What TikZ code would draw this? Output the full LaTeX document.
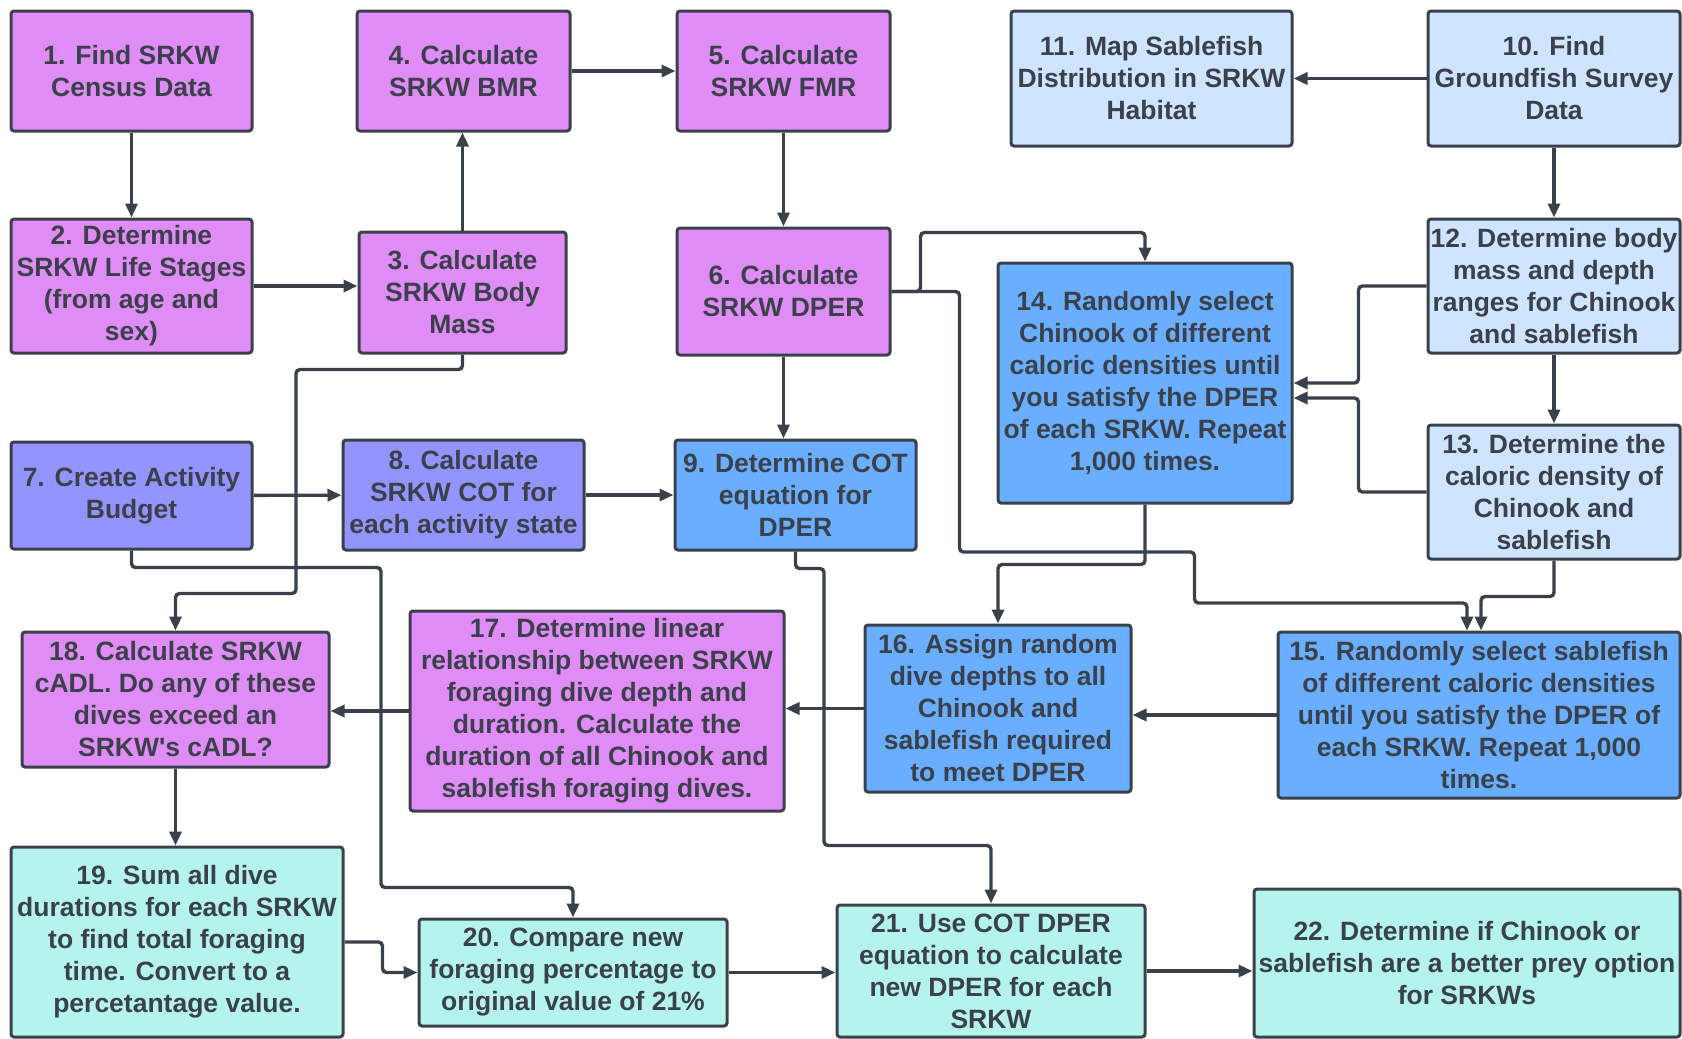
\documentclass[tikz,border=0pt]{standalone}
\usepackage{fontspec}
\setmainfont{Liberation Sans}
\usetikzlibrary{arrows.meta}
\definecolor{ink}{HTML}{3B414B}
\definecolor{cPink}{HTML}{E08CF7}
\definecolor{cViolet}{HTML}{9494FF}
\definecolor{cPale}{HTML}{CFE4FF}
\definecolor{cBlue}{HTML}{6AAEFF}
\definecolor{cMint}{HTML}{B5F4EC}

\begin{document}
\begin{tikzpicture}[x=1pt,y=-1pt,
    box/.style={draw=ink,line width=3pt,rounded corners=3pt,align=center,text=ink,
      inner sep=0pt,font=\bfseries\fontsize{26.5}{32}\selectfont},
    flow/.style={draw=ink,line width=3.4pt,rounded corners=4pt,
      -{Triangle[length=14pt,width=12pt]}}]
    \useasboundingbox (0,0) rectangle (1682,1039);
    \node[box,fill=cPink,minimum width=241pt,minimum height=120pt] (S1) at (131.5,71) {1. Find SRKW\\Census Data};
    \node[box,fill=cPink,minimum width=241pt,minimum height=134pt] (S2) at (131.5,286) {2. Determine\\SRKW Life Stages\\(from age and\\sex)};
    \node[box,fill=cPink,minimum width=207pt,minimum height=121pt] (S3) at (462.5,292.5) {3. Calculate\\SRKW Body\\Mass};
    \node[box,fill=cPink,minimum width=213pt,minimum height=120pt] (S4) at (463.5,71) {4. Calculate\\SRKW BMR};
    \node[box,fill=cPink,minimum width=213pt,minimum height=120pt] (S5) at (783.5,71) {5. Calculate\\SRKW FMR};
    \node[box,fill=cPink,minimum width=213pt,minimum height=127pt] (S6) at (783.5,291.5) {6. Calculate\\SRKW DPER};
    \node[box,fill=cViolet,minimum width=241pt,minimum height=107pt] (S7) at (131.5,495.5) {7. Create Activity\\Budget};
    \node[box,fill=cViolet,minimum width=241pt,minimum height=110pt] (S8) at (463.5,495) {8. Calculate\\SRKW COT for\\each activity state};
    \node[box,fill=cBlue,minimum width=241pt,minimum height=110pt] (S9) at (795.5,495) {9. Determine COT\\equation for\\DPER};
    \node[box,fill=cPale,minimum width=252pt,minimum height=135pt] (S10) at (1554,78.5) {10. Find\\Groundfish Survey\\Data};
    \node[box,fill=cPale,minimum width=281pt,minimum height=135pt] (S11) at (1151.5,78.5) {11. Map Sablefish\\Distribution in SRKW\\Habitat};
    \node[box,fill=cPale,minimum width=252pt,minimum height=134pt] (S12) at (1554,286) {12. Determine body\\mass and depth\\ranges for Chinook\\and sablefish};
    \node[box,fill=cPale,minimum width=252pt,minimum height=134pt] (S13) at (1554,492) {13. Determine the\\caloric density of\\Chinook and\\sablefish};
    \node[box,fill=cBlue,minimum width=294pt,minimum height=240pt] (S14) at (1145,383) {14. Randomly select\\Chinook of different\\caloric densities until\\you satisfy the DPER\\of each SRKW. Repeat\\1,000 times.};
    \node[box,fill=cBlue,minimum width=402pt,minimum height=166pt] (S15) at (1479,715) {15. Randomly select sablefish\\of different caloric densities\\until you satisfy the DPER of\\each SRKW. Repeat 1,000\\times.};
    \node[box,fill=cBlue,minimum width=266pt,minimum height=167pt] (S16) at (998,708.5) {16. Assign random\\dive depths to all\\Chinook and\\sablefish required\\to meet DPER};
    \node[box,fill=cPink,minimum width=374pt,minimum height=200pt] (S17) at (597,711) {17. Determine linear\\relationship between SRKW\\foraging dive depth and\\duration. Calculate the\\duration of all Chinook and\\sablefish foraging dives.};
    \node[box,fill=cPink,minimum width=307pt,minimum height=135pt] (S18) at (175.5,699.5) {18. Calculate SRKW\\cADL. Do any of these\\dives exceed an\\SRKW\textquotesingle s cADL?};
    \node[box,fill=cMint,minimum width=332pt,minimum height=190pt] (S19) at (177,942) {19. Sum all dive\\durations for each SRKW\\to find total foraging\\time. Convert to a\\percetantage value.};
    \node[box,fill=cMint,minimum width=308pt,minimum height=107pt] (S20) at (573,972.5) {20. Compare new\\foraging percentage to\\original value of 21\%};
    \node[box,fill=cMint,minimum width=308pt,minimum height=132pt] (S21) at (991,971) {21. Use COT DPER\\equation to calculate\\new DPER for each\\SRKW};
    \node[box,fill=cMint,minimum width=426pt,minimum height=148pt] (S22) at (1467,963) {22. Determine if Chinook or\\sablefish are a better prey option\\for SRKWs};

    \draw[flow] (S1) -- (S2);
    \draw[flow] (S2.east) -- (S2.east -| S3.west);
    \draw[flow] (S3.north) -- (S3.north |- S4.south);
    \draw[flow] (S4) -- (S5);
    \draw[flow] (S5) -- (S6);
    \draw[flow] (S10) -- (S11);
    \draw[flow] (S10) -- (S12);
    \draw[flow] (S12) -- (S13);
    \draw[flow] (S6.south) -- (S6.south |- S9.north);
    \draw[flow] (S7) -- (S8);
    \draw[flow] (S8) -- (S9);
    \draw[flow] (S6.east) -- ++(29,0) |- ([yshift=29pt]S14.north) -- (S14.north);
    \draw[flow] (S6.east) -- ++(68,0) -- ++(0,260.5) -- ++(235,0) -- ++(0,51) -| ([xshift=-12pt]S15.north);
    \draw[flow] (S13.south) -- ++(0,36) -| ([xshift=2pt]S15.north);
    \draw[flow] (S14.south) -- ++(0,60) -| (S16.north);
    \draw[flow] (S12.west) -- ++(-68,0) |- (S14.east);
    \draw[flow] (S13.west) -- ++(-68,0) |- ([yshift=-15pt]S14.east);
    \draw[flow] (S9.south) -- ++(0,17) -- ++(28.5,0) |- ([yshift=58pt]S21.north) -- (S21.north);
    \draw[flow] (S7.south) -- ++(0,17) -- ++(249.5,0) |- ([yshift=30pt]S20.north) -- (S20.north);
    \draw[flow] (S3.south) -- ++(0,15) -- ++(-166.5,0) |- ([yshift=37pt]S18.north) -- (S18.north);
    \draw[flow] (S15.west) -- (S15.west -| S16.east);
    \draw[flow] (S16.west) -- (S16.west -| S17.east);
    \draw[flow] (S17.west) -- (S17.west -| S18.east);
    \draw[flow] (S18.south) -- (S18.south |- S19.north);
    \draw[flow] (S19.east) -- ++(38,0) |- (S20.west);
    \draw[flow] (S20.east) -- (S20.east -| S21.west);
    \draw[flow] (S21.east) -- (S21.east -| S22.west);
\end{tikzpicture}
\end{document}
